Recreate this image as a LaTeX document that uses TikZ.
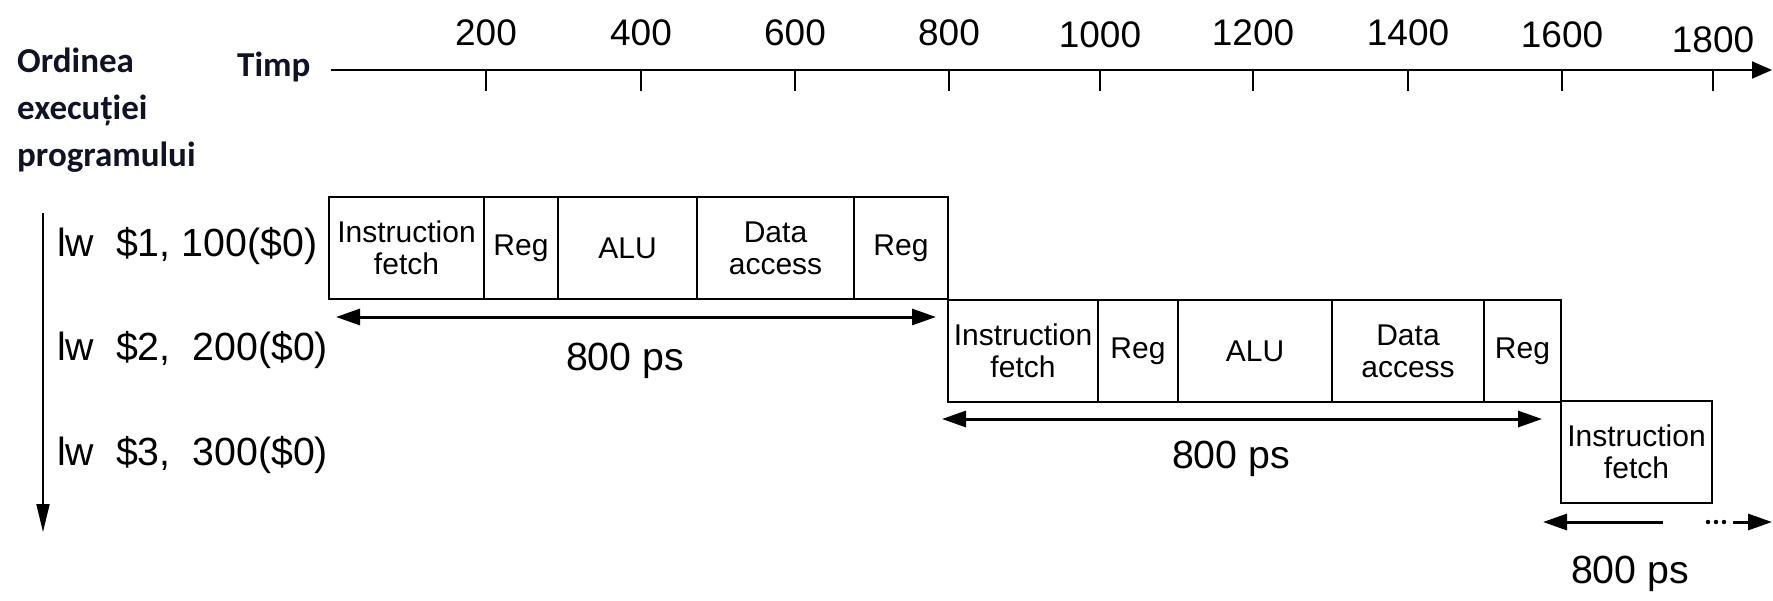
\documentclass[tikz,border=0pt]{standalone}
\usepackage{fontspec}
\setmainfont{Liberation Sans}
\newfontfamily\lblfont{Carlito}
\usetikzlibrary{arrows.meta}
\definecolor{lblcol}{RGB}{18,18,38}
\begin{document}
\begin{tikzpicture}[x=1pt,y=-1pt,
  cell/.style={draw, line width=1.6pt, inner sep=0pt, outer sep=0pt, anchor=north west,
    minimum height=102pt, align=center, font=\fontsize{30}{32}\selectfont},
  instr/.style={anchor=base west, inner sep=0pt, font=\fontsize{39.3}{44}\selectfont},
  pslbl/.style={anchor=base, inner sep=0pt, font=\fontsize{39.3}{44}\selectfont},
  ticklbl/.style={anchor=base, inner sep=0pt, font=\fontsize{37}{40}\selectfont},
  boldlbl/.style={anchor=base west, inner sep=0pt, align=left, text=lblcol,
    font=\lblfont\bfseries\fontsize{35}{47}\selectfont},
  axisline/.style={line width=2pt, -{Triangle[length=20pt,width=17pt]}},
  tickline/.style={line width=2pt},
  dimarrow/.style={line width=3pt, {Triangle[length=24pt,width=16pt]}-{Triangle[length=24pt,width=16pt]}},
  halfarrowL/.style={line width=3pt, -{Triangle[length=24pt,width=16pt]}},
  orderarrow/.style={line width=2pt, -{Triangle[length=28pt,width=13pt]}}
]
\fill[white] (0,0) rectangle (1773,600);
\useasboundingbox (0,0) rectangle (1773,600);

% labels on the left (base anchor = baseline of the last line)
\node[boldlbl] (ord) at (17,166) {Ordinea\\execuției\\programului};
\node[boldlbl] (timp) at (237,76) {Timp};

% time axis
\coordinate (ax0) at (331,70);
\coordinate (ax1) at (1772,70);
\draw[axisline] (ax0) -- (ax1);
\foreach \x/\t/\b [count=\i] in {486/200/45, 641/400/45, 795/600/45, 949/800/45,
  1100/1000/47, 1253/1200/45, 1408/1400/45, 1562/1600/47, 1713/1800/52} {
  \draw[tickline] (\x,70) -- (\x,91);
  \node[ticklbl] (t\i) at (\x,\b) {\t};
}

% program order arrow
\coordinate (ord0) at (43,213);
\coordinate (ord1) at (43,532);
\draw[orderarrow] (ord0) -- (ord1);

% instructions
\node[instr] (i1) at (57,256) {lw\ \ \$1, 100(\$0)};
\node[instr] (i2) at (57,360) {lw\ \ \$2,\ \ 200(\$0)};
\node[instr] (i3) at (57,465) {lw\ \ \$3,\ \ 300(\$0)};

% first instruction
\node[cell, minimum width=155pt] (a1) at (329,197) {Instruction\\fetch};
\node[cell, minimum width=74pt]  (a2) at (484,197) {Reg};
\node[cell, minimum width=139pt] (a3) at (558,197) {ALU};
\node[cell, minimum width=157pt] (a4) at (697,197) {Data\\access};
\node[cell, minimum width=94pt]  (a5) at (854,197) {Reg};

% second instruction
\node[cell, minimum width=150pt] (b1) at (948,300) {Instruction\\fetch};
\node[cell, minimum width=80pt]  (b2) at (1098,300) {Reg};
\node[cell, minimum width=154pt] (b3) at (1178,300) {ALU};
\node[cell, minimum width=152pt] (b4) at (1332,300) {Data\\access};
\node[cell, minimum width=77pt]  (b5) at (1484,300) {Reg};

% third instruction
\node[cell, minimum width=151pt] (c1) at (1561,401) {Instruction\\fetch};

% 800 ps spans
\coordinate (d1a) at (336,317);
\coordinate (d1b) at (936,317);
\draw[dimarrow] (d1a) -- (d1b);
\node[pslbl] (p1) at (625,370) {800 ps};

\coordinate (d2a) at (942,419);
\coordinate (d2b) at (1542,419);
\draw[dimarrow] (d2a) -- (d2b);
\node[pslbl] (p2) at (1231,468) {800 ps};

\coordinate (d3a) at (1663,522);
\coordinate (d3b) at (1543,522);
\coordinate (d3c) at (1733,522);
\coordinate (d3d) at (1772,522);
\draw[halfarrowL] (d3a) -- (d3b);
\draw[halfarrowL] (d3c) -- (d3d);
\foreach \x in {1708,1716,1724} \fill (\x,522) circle (2.2);
\node[pslbl] (p3) at (1630,583) {800 ps};
\end{tikzpicture}
\end{document}
